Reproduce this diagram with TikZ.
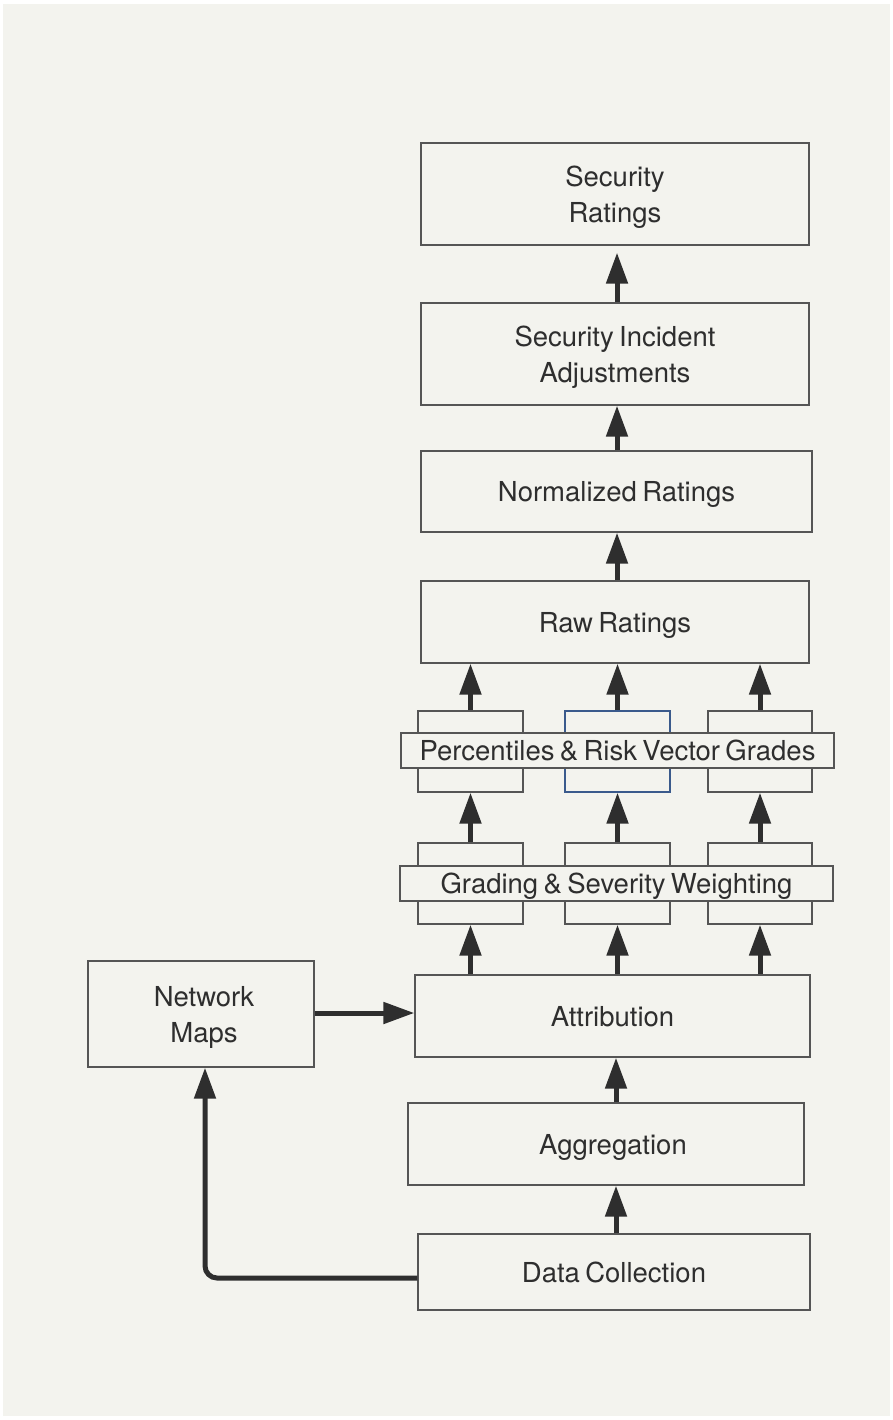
\documentclass[tikz,border=0pt]{standalone}
\usepackage{fontspec}
\setmainfont[WordSpace=0.7]{TeX Gyre Heros}
\usetikzlibrary{arrows.meta}
\definecolor{bgc}{HTML}{F3F3EE}
\definecolor{edge}{HTML}{555555}
\definecolor{ink}{HTML}{2E2E2E}
\definecolor{bluedge}{HTML}{3A5A8C}
\tikzset{
  box/.style={draw=edge, line width=1.3pt, fill=bgc, text=ink, align=center, inner sep=0pt,
    text depth=0pt, font=\fontsize{27.5}{36}\selectfont},
  arr/.style={draw=ink, line width=5pt, -{Triangle[length=31pt,width=21pt]}},
}
\begin{document}
\begin{tikzpicture}[x=1pt,y=-1pt]
\useasboundingbox (0,0) rectangle (893,1420);
\fill[white] (0,0) rectangle (893,1420);
\fill[bgc] (3,4) rectangle (890,1416);
% main column
\node[box, minimum width=388pt, minimum height=102pt] (sr) at (615,194) {Security\\Ratings};
\node[box, minimum width=388pt, minimum height=102pt] (sia) at (615,354) {Security Incident\\Adjustments};
\node[box, minimum width=391pt, minimum height=81pt] (nr) at (616.5,491.5) {Normalized Ratings};
\node[box, minimum width=388pt, minimum height=82pt] (rr) at (615,622) {Raw Ratings};
% percentiles row small boxes
\node[box, minimum width=105pt, minimum height=81pt] (p1) at (470.5,751.5) {};
\node[box, draw=bluedge, minimum width=105pt, minimum height=81pt] (p2) at (617.5,751.5) {};
\node[box, minimum width=104pt, minimum height=81pt] (p3) at (760,751.5) {};
\node[box, minimum width=433pt, minimum height=35pt] (pw) at (617.5,750.5) {Percentiles \& Risk Vector Grades};
% grading row small boxes
\node[box, minimum width=105pt, minimum height=81pt] (g1) at (470.5,883.5) {};
\node[box, minimum width=105pt, minimum height=81pt] (g2) at (617.5,883.5) {};
\node[box, minimum width=104pt, minimum height=81pt] (g3) at (760,883.5) {};
\node[box, minimum width=433pt, minimum height=35pt] (gw) at (616.5,883.5) {Grading \& Severity Weighting};
% lower
\node[box, minimum width=395pt, minimum height=82pt] (at) at (612.5,1016) {Attribution};
\node[box, minimum width=226pt, minimum height=106pt] (nm) at (201,1014) {\hspace*{6pt}Network\\\hspace*{6pt}Maps};
\node[box, minimum width=396pt, minimum height=82pt] (ag) at (606,1144) {\hspace*{14pt}Aggregation};
\node[box, minimum width=392pt, minimum height=76pt] (dc) at (614,1272) {Data Collection};
% connectors
\draw[arr, shorten >=7pt] (sia.north -| 617,0) -- (sr.south -| 617,0);
\draw[arr] (nr.north -| 617,0) -- (sia.south -| 617,0);
\draw[arr] (rr.north -| 617,0) -- (nr.south -| 617,0);
\draw[arr] (p1.north) -- (rr.south -| p1.north);
\draw[arr] (p2.north) -- (rr.south -| p2.north);
\draw[arr] (p3.north) -- (rr.south -| p3.north);
\draw[arr] (g1.north) -- (p1.south);
\draw[arr] (g2.north) -- (p2.south);
\draw[arr] (g3.north) -- (p3.south);
\draw[arr] (at.north -| g1.south) -- (g1.south);
\draw[arr] (at.north -| g2.south) -- (g2.south);
\draw[arr] (at.north -| g3.south) -- (g3.south);
\draw[arr] (ag.north -| 616,0) -- (at.south -| 616,0);
\draw[arr] (dc.north -| 616,0) -- (ag.south -| 616,0);
\draw[arr] (nm.east |- 0,1013) -- (at.west |- 0,1013);
\draw[arr, rounded corners=12pt] (dc.west |- 0,1278) -| (nm.south -| 205,0);
\end{tikzpicture}
\end{document}
